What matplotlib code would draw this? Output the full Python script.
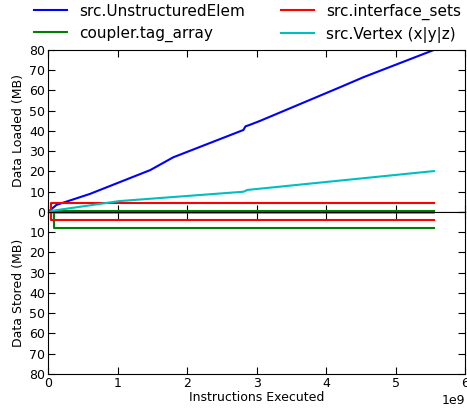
import numpy as np
import matplotlib.pyplot as plt

# instructions executed (x1e9) and MB loaded / stored
elem_x = [0.0, 0.12, 0.6, 1.47, 1.8, 2.81, 2.84, 2.9, 3.05, 4.2, 4.54, 5.55]
elem_load = [0.0, 3.5, 8.9, 20.7, 27.0, 40.5, 42.3, 43.0, 45.0, 61.6, 66.6, 80.0]
elem_store = [0.0, 0.2, 0.2, 0.2, 0.2, 0.2, 0.2, 0.2, 0.2, 0.2, 0.2, 0.2]

tag_x = [0.0, 0.087, 0.087, 5.55]
tag_load = [0.0, 0.0, 0.3, 0.3]
tag_store = [0.0, 0.0, 8.0, 8.0]

iface_x = [0.0, 0.035, 0.035, 5.55]
iface_load = [0.0, 0.0, 4.3, 4.3]
iface_store = [0.0, 0.0, 4.0, 4.0]

vert_x = [0.0, 0.12, 1.03, 2.81, 2.87, 5.55]
vert_load = [0.0, 0.9, 5.4, 10.0, 10.9, 20.2]
vert_store = [0.0, 0.1, 0.1, 0.1, 0.1, 0.1]

names = ['src.UnstructuredElem', 'coupler.tag_array',
         'src.interface_sets', 'src.Vertex (x|y|z)']
colors = ['#0000ff', '#008000', '#ff0000', '#00bfbf']
series = [(elem_x, elem_load, elem_store),
          (tag_x, tag_load, tag_store),
          (iface_x, iface_load, iface_store),
          (vert_x, vert_load, vert_store)]

fig = plt.figure(figsize=(4.67, 4.09), dpi=100)
ax1 = fig.add_axes([0.103, 0.4817, 0.893, 0.3961])
ax2 = fig.add_axes([0.103, 0.0856, 0.893, 0.3961], sharex=ax1)

for (x, ld, st), name, c in zip(series, names, colors):
    xs = np.array(x) * 1e9
    ax1.plot(xs, ld, color=c, lw=1.5, label=name)
    ax2.plot(xs, st, color=c, lw=1.5)

ax1.set_ylim(0, 80)
ax2.set_ylim(80, 0)
ax1.set_xlim(0, 6e9)
ax1.set_yticks(np.arange(0, 81, 10))
ax2.set_yticks(np.arange(0, 81, 10))
ax2.set_yticklabels([''] + [str(v) for v in range(10, 81, 10)])
for ax in (ax1, ax2):
    ax.tick_params(direction='in', top=True, right=True, length=5,
                   labelsize=9, pad=2)
ax1.tick_params(labelbottom=False)
ax1.set_ylabel('Data Loaded (MB)', fontsize=9, labelpad=3)
ax2.set_ylabel('Data Stored (MB)', fontsize=9, labelpad=3)
ax2.set_xlabel('Instructions Executed', fontsize=9, labelpad=1)
ax2.xaxis.get_offset_text().set_fontsize(9)

fig.legend(loc='upper center', bbox_to_anchor=(0.53, 1.025), ncol=2,
           frameon=False, fontsize=11, handlelength=2.2,
           columnspacing=2.3, labelspacing=0.45)

fig.savefig('out.png', dpi=100)
